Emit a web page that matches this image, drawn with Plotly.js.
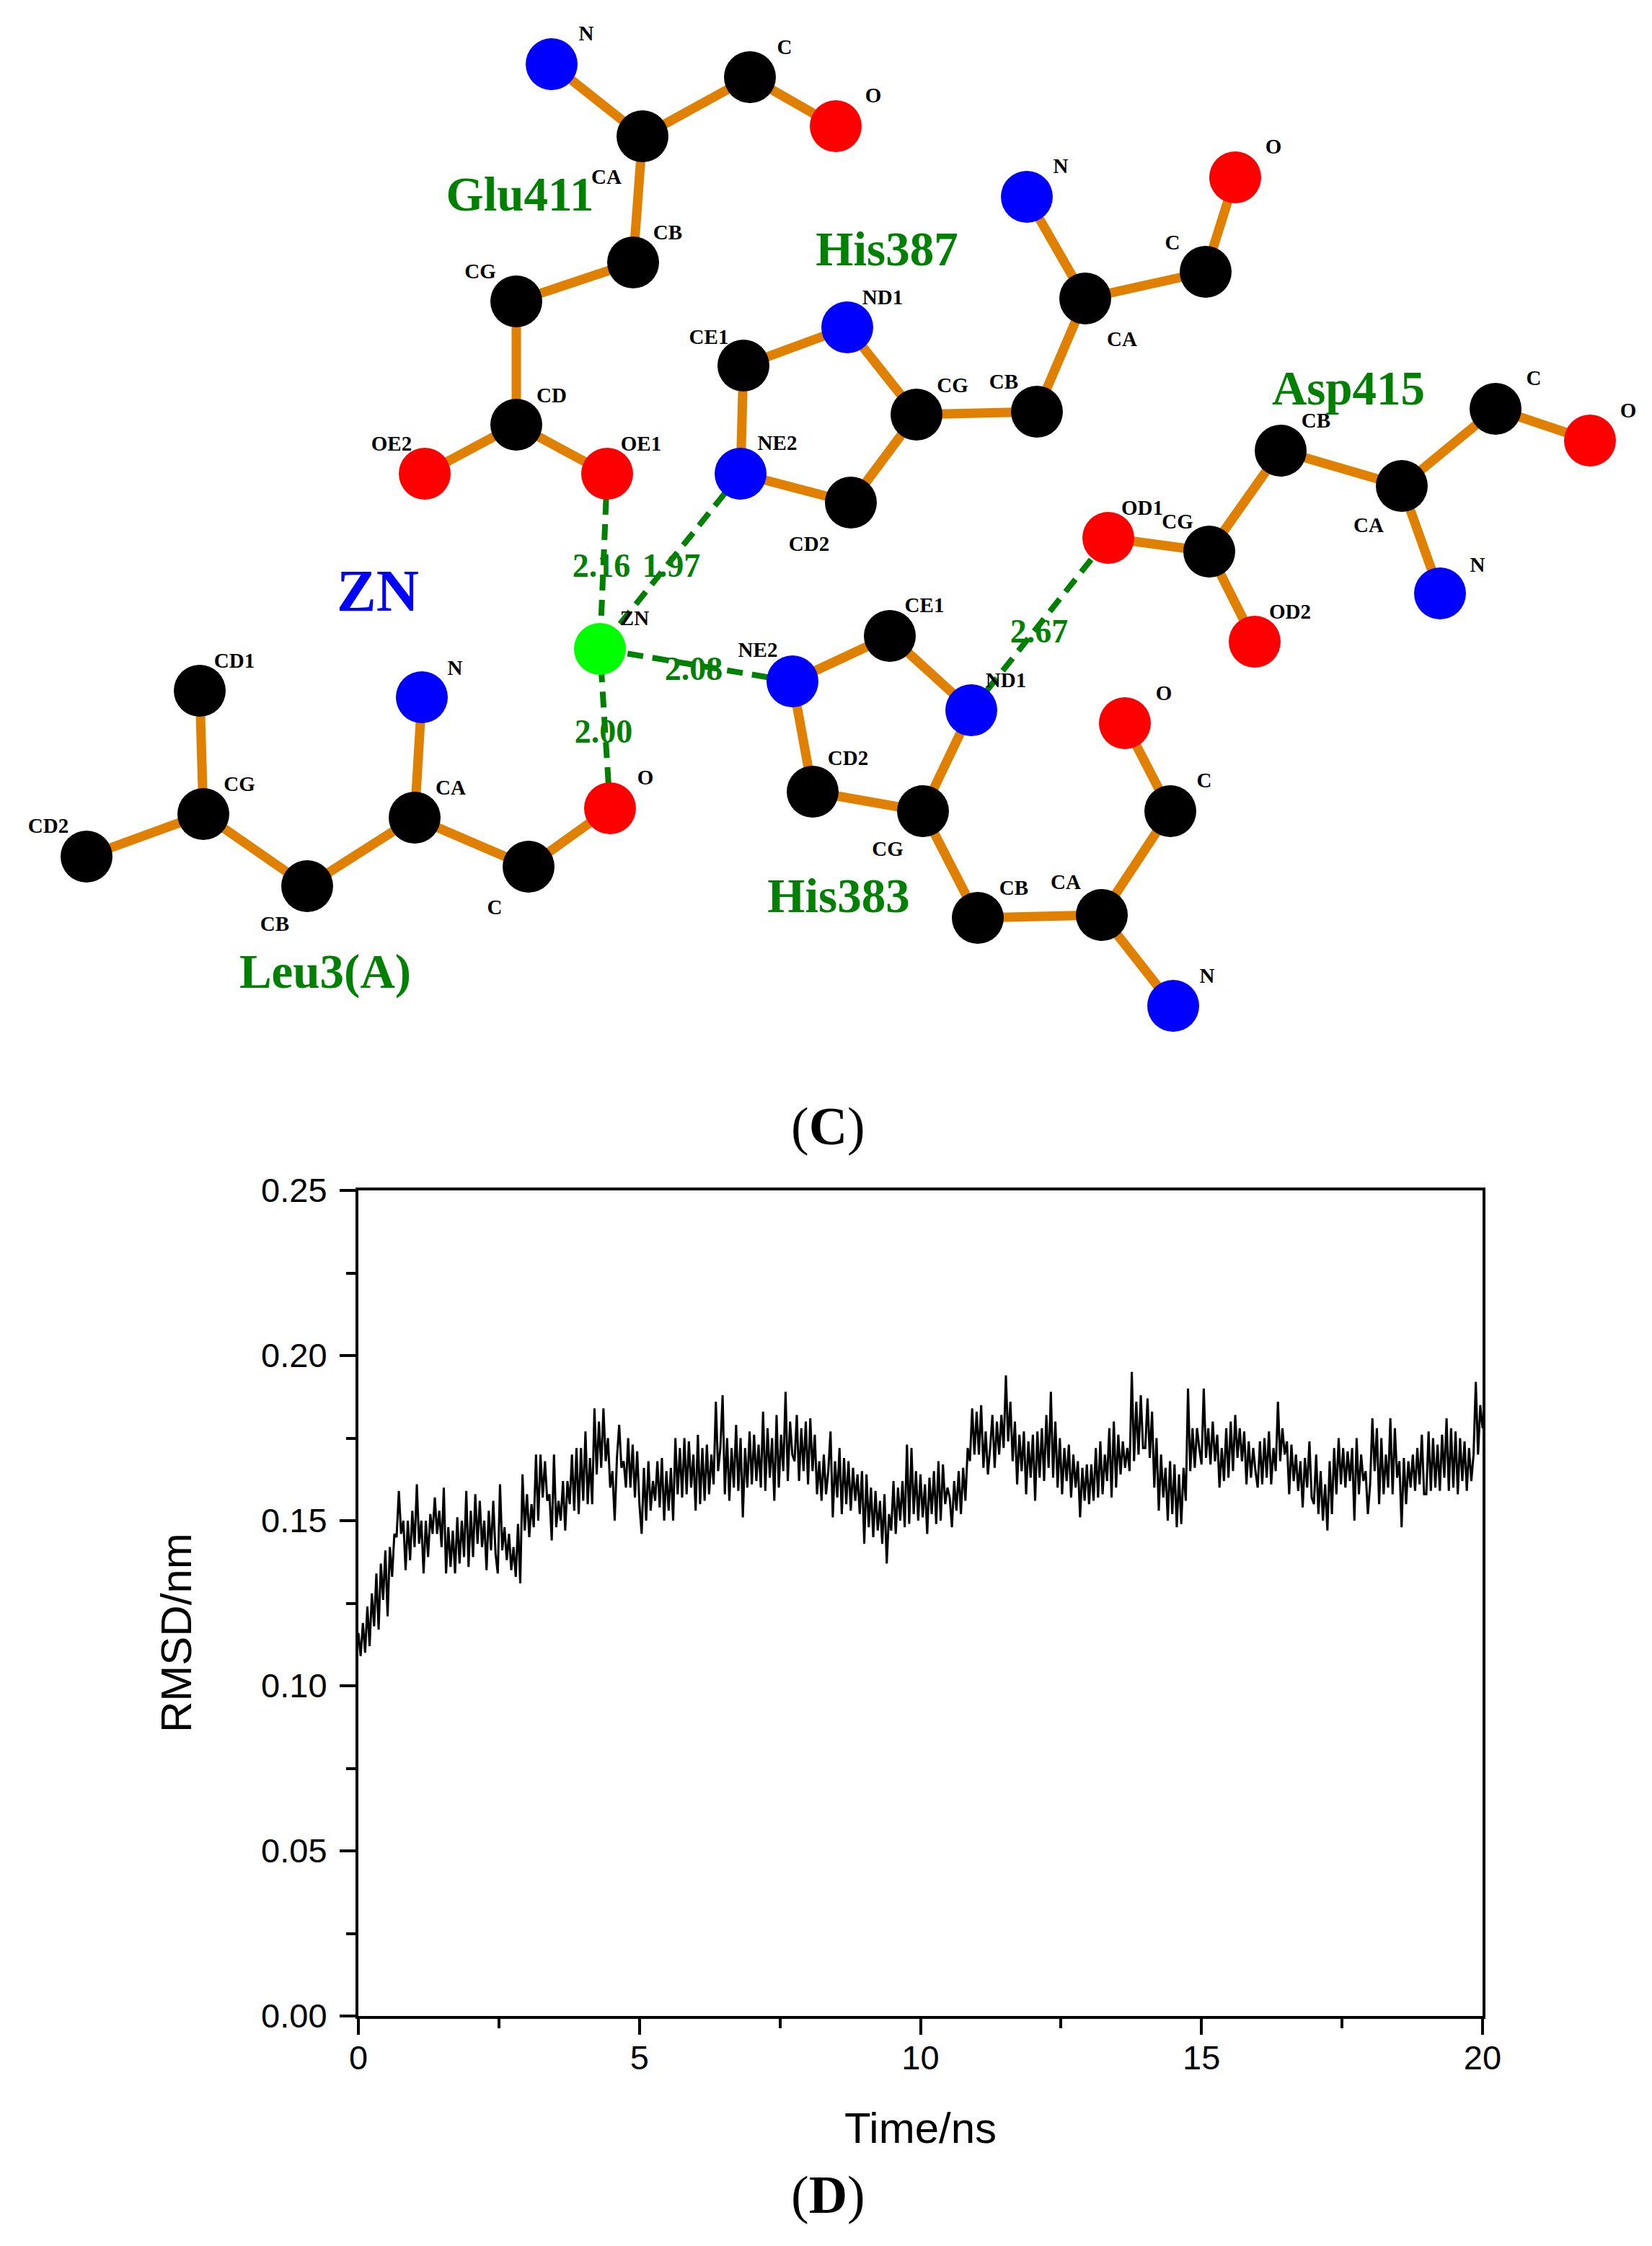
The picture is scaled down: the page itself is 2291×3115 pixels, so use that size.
<!DOCTYPE html>
<html><head><meta charset="utf-8">
<script src="https://cdn.plot.ly/plotly-3.0.1.min.js"></script>
<style>html,body{margin:0;padding:0;background:#fff}</style></head>
<body><div id="chart" style="width:2291px;height:3115px"></div>
<script>
// ---------- Panel D: RMSD trace ----------
const time = [
0,0.04,0.08,0.12,0.16,0.2,0.24,0.28,0.32,0.36,0.4,0.44,0.48,0.52,0.56,0.6,0.64,0.68,0.72,0.76,0.8,0.84,0.88,0.92,0.96,
1,1.04,1.08,1.12,1.16,1.2,1.24,1.28,1.32,1.36,1.4,1.44,1.48,1.52,1.56,1.6,1.64,1.68,1.72,1.76,1.8,1.84,1.88,1.92,1.96,
2,2.04,2.08,2.12,2.16,2.2,2.24,2.28,2.32,2.36,2.4,2.44,2.48,2.52,2.56,2.6,2.64,2.68,2.72,2.76,2.8,2.84,2.88,2.92,2.96,
3,3.04,3.08,3.12,3.16,3.2,3.24,3.28,3.32,3.36,3.4,3.44,3.48,3.52,3.56,3.6,3.64,3.68,3.72,3.76,3.8,3.84,3.88,3.92,3.96,
4,4.04,4.08,4.12,4.16,4.2,4.24,4.28,4.32,4.36,4.4,4.44,4.48,4.52,4.56,4.6,4.64,4.68,4.72,4.76,4.8,4.84,4.88,4.92,4.96,
5,5.04,5.08,5.12,5.16,5.2,5.24,5.28,5.32,5.36,5.4,5.44,5.48,5.52,5.56,5.6,5.64,5.68,5.72,5.76,5.8,5.84,5.88,5.92,5.96,
6,6.04,6.08,6.12,6.16,6.2,6.24,6.28,6.32,6.36,6.4,6.44,6.48,6.52,6.56,6.6,6.64,6.68,6.72,6.76,6.8,6.84,6.88,6.92,6.96,
7,7.04,7.08,7.12,7.16,7.2,7.24,7.28,7.32,7.36,7.4,7.44,7.48,7.52,7.56,7.6,7.64,7.68,7.72,7.76,7.8,7.84,7.88,7.92,7.96,
8,8.04,8.08,8.12,8.16,8.2,8.24,8.28,8.32,8.36,8.4,8.44,8.48,8.52,8.56,8.6,8.64,8.68,8.72,8.76,8.8,8.84,8.88,8.92,8.96,
9,9.04,9.08,9.12,9.16,9.2,9.24,9.28,9.32,9.36,9.4,9.44,9.48,9.52,9.56,9.6,9.64,9.68,9.72,9.76,9.8,9.84,9.88,9.92,9.96,
10,10.04,10.08,10.12,10.16,10.2,10.24,10.28,10.32,10.36,10.4,10.44,10.48,10.52,10.56,10.6,10.64,10.68,10.72,10.76,10.8,10.84,10.88,10.92,10.96,
11,11.04,11.08,11.12,11.16,11.2,11.24,11.28,11.32,11.36,11.4,11.44,11.48,11.52,11.56,11.6,11.64,11.68,11.72,11.76,11.8,11.84,11.88,11.92,11.96,
12,12.04,12.08,12.12,12.16,12.2,12.24,12.28,12.32,12.36,12.4,12.44,12.48,12.52,12.56,12.6,12.64,12.68,12.72,12.76,12.8,12.84,12.88,12.92,12.96,
13,13.04,13.08,13.12,13.16,13.2,13.24,13.28,13.32,13.36,13.4,13.44,13.48,13.52,13.56,13.6,13.64,13.68,13.72,13.76,13.8,13.84,13.88,13.92,13.96,
14,14.04,14.08,14.12,14.16,14.2,14.24,14.28,14.32,14.36,14.4,14.44,14.48,14.52,14.56,14.6,14.64,14.68,14.72,14.76,14.8,14.84,14.88,14.92,14.96,
15,15.04,15.08,15.12,15.16,15.2,15.24,15.28,15.32,15.36,15.4,15.44,15.48,15.52,15.56,15.6,15.64,15.68,15.72,15.76,15.8,15.84,15.88,15.92,15.96,
16,16.04,16.08,16.12,16.16,16.2,16.24,16.28,16.32,16.36,16.4,16.44,16.48,16.52,16.56,16.6,16.64,16.68,16.72,16.76,16.8,16.84,16.88,16.92,16.96,
17,17.04,17.08,17.12,17.16,17.2,17.24,17.28,17.32,17.36,17.4,17.44,17.48,17.52,17.56,17.6,17.64,17.68,17.72,17.76,17.8,17.84,17.88,17.92,17.96,
18,18.04,18.08,18.12,18.16,18.2,18.24,18.28,18.32,18.36,18.4,18.44,18.48,18.52,18.56,18.6,18.64,18.68,18.72,18.76,18.8,18.84,18.88,18.92,18.96,
19,19.04,19.08,19.12,19.16,19.2,19.24,19.28,19.32,19.36,19.4,19.44,19.48,19.52,19.56,19.6,19.64,19.68,19.72,19.76,19.8,19.84,19.88,19.92,19.96,
20];
const rmsd = [
.116,.109,.119,.110,.124,.112,.128,.118,.134,.117,.137,.126,.141,.121,.142,.133,.146,.145,.159,.146,.150,.135,.150,.138,.153,
.142,.161,.143,.150,.134,.150,.139,.152,.146,.157,.146,.153,.142,.160,.134,.148,.136,.147,.134,.151,.137,.150,.139,.159,.136,
.153,.139,.158,.143,.156,.142,.150,.135,.153,.141,.156,.140,.134,.161,.141,.148,.138,.146,.135,.142,.133,.149,.131,.164,.147,
.158,.145,.155,.148,.170,.150,.170,.157,.168,.156,.158,.144,.170,.148,.156,.150,.162,.147,.162,.155,.170,.153,.172,.152,.172,
.156,.177,.155,.169,.155,.184,.164,.180,.166,.184,.168,.175,.160,.165,.150,.169,.179,.166,.168,.160,.175,.160,.173,.157,.171,
.155,.146,.166,.150,.168,.153,.162,.156,.168,.154,.169,.150,.165,.153,.166,.150,.175,.158,.172,.157,.175,.158,.174,.160,.170,
.153,.176,.155,.172,.156,.173,.158,.170,.161,.186,.165,.172,.188,.158,.175,.156,.172,.160,.179,.159,.175,.151,.172,.160,.177,
.161,.176,.162,.173,.160,.183,.159,.178,.163,.175,.156,.182,.160,.176,.165,.189,.162,.180,.170,.168,.182,.162,.178,.165,.180,
.161,.181,.165,.176,.158,.168,.156,.170,.158,.165,.177,.151,.168,.157,.172,.152,.169,.155,.168,.153,.166,.156,.164,.152,.165,
.143,.164,.148,.160,.145,.159,.147,.156,.143,.158,.137,.152,.147,.162,.146,.160,.150,.162,.148,.173,.149,.172,.152,.165,.150,
.164,.151,.161,.146,.163,.152,.165,.149,.168,.150,.167,.155,.160,.157,.148,.162,.153,.165,.152,.166,.156,.172,.168,.184,.170,
.183,.170,.185,.166,.177,.164,.172,.182,.166,.180,.170,.182,.172,.194,.174,.186,.168,.180,.161,.176,.165,.177,.158,.174,.163,
.176,.156,.177,.163,.178,.162,.182,.166,.189,.163,.180,.160,.175,.158,.172,.162,.173,.157,.170,.160,.168,.151,.166,.156,.167,
.155,.167,.156,.172,.157,.174,.158,.170,.162,.178,.157,.180,.160,.176,.164,.174,.166,.172,.165,.195,.168,.186,.170,.188,.172,
.172,.187,.169,.183,.160,.175,.153,.170,.157,.166,.150,.168,.152,.167,.148,.164,.149,.166,.156,.190,.165,.178,.166,.178,.172,
.167,.190,.169,.178,.167,.180,.168,.176,.160,.172,.162,.178,.163,.180,.165,.182,.169,.178,.168,.177,.161,.174,.163,.172,.165,
.160,.174,.161,.175,.163,.177,.161,.172,.165,.186,.168,.178,.170,.174,.158,.173,.162,.170,.159,.168,.154,.169,.160,.174,.157,
.155,.170,.152,.165,.150,.161,.147,.168,.152,.172,.158,.175,.161,.172,.160,.171,.162,.172,.150,.175,.158,.170,.162,.165,.152,
.161,.181,.165,.178,.155,.175,.158,.170,.160,.181,.158,.178,.163,.168,.148,.169,.155,.168,.160,.170,.159,.172,.161,.176,.158,
.158,.177,.159,.175,.160,.173,.159,.176,.163,.181,.159,.178,.160,.177,.158,.175,.162,.174,.159,.172,.162,.170,.192,.170,.185,
.178];
const xTickVals = [0,5,10,15,20];
const yTickVals = [0,0.05,0.10,0.15,0.20,0.25];

// ---------- Panel C: interaction diagram (diagram units) ----------
const atomKeys = ['GN','GCA','GC','GO','GCB','GCG','GCD','GOE2','GOE1',
 'HCE1','HNE2','HND1','HCD2','HCG','HCB','HCA','HN','HC','HO',
 'ACB','ACA','AC','AO','AOD1','ACG','AN','AOD2',
 'DCE1','DND1','DCG','DCB','DCA','DC','DO','DN','DNE2','DCD2',
 'ZN','LCD1','LCG','LCD2','LCB','LCA','LN','LC','LO'];
const atomX = [765,891,1040,1159,878,716,716,589,842,
 1031,1027,1175,1180,1271,1438,1505,1424,1672,1713,
 1776,1944,2074,2205,1537,1677,1997,1740,
 1234,1347,1280,1356,1528,1623,1560,1627,1099,1127,
 832,277,282,120,426,575,585,733,846];
const atomY = [89,189,107,175,364,418,589,657,657,
 507,657,454,697,575,571,414,273,377,246,
 625,674,567,611,746,765,823,890,
 882,985,1125,1273,1269,1125,1003,1395,945,1098,
 900,958,1129,1188,1229,1134,967,1202,1121];
const atomColor = ['#0000ff','#000000','#000000','#ff0000','#000000','#000000','#000000','#ff0000','#ff0000',
 '#000000','#0000ff','#0000ff','#000000','#000000','#000000','#000000','#0000ff','#000000','#ff0000',
 '#000000','#000000','#000000','#ff0000','#ff0000','#000000','#0000ff','#ff0000',
 '#000000','#0000ff','#000000','#000000','#000000','#000000','#ff0000','#0000ff','#0000ff','#000000',
 '#00ff00','#000000','#000000','#000000','#000000','#000000','#0000ff','#000000','#ff0000'];
const bonds = [['GN','GCA'],['GCA','GC'],['GC','GO'],['GCA','GCB'],['GCB','GCG'],['GCG','GCD'],['GCD','GOE2'],['GCD','GOE1'],
 ['HCE1','HNE2'],['HCE1','HND1'],['HND1','HCG'],['HNE2','HCD2'],['HCD2','HCG'],['HCG','HCB'],['HCB','HCA'],['HCA','HN'],['HCA','HC'],['HC','HO'],
 ['AOD1','ACG'],['ACG','AOD2'],['ACG','ACB'],['ACB','ACA'],['ACA','AN'],['ACA','AC'],['AC','AO'],
 ['DNE2','DCE1'],['DCE1','DND1'],['DND1','DCG'],['DNE2','DCD2'],['DCD2','DCG'],['DCG','DCB'],['DCB','DCA'],['DCA','DC'],['DC','DO'],['DCA','DN'],
 ['LCD1','LCG'],['LCG','LCD2'],['LCG','LCB'],['LCB','LCA'],['LCA','LN'],['LCA','LC'],['LC','LO']];
const contacts = [['GOE1','ZN'],['HNE2','ZN'],['DNE2','ZN'],['LO','ZN'],['DND1','AOD1']];

const atomLabelText = ['N','C','O','CA','CB','CG','CD','OE2','OE1',
 'CE1','NE2','ND1','CG','CB','CA','N','C','O','CD2',
 'CB','CA','C','O','OD1','CG','N','OD2',
 'CE1','ND1','CD2','CG','CB','CA','C','O','N','NE2',
 'ZN','CD1','N','CG','CA','CD2','O','CB','C'];
const atomLabelX = [813,1088,1211,841,926,666,765,543,889,
 983,1078,1224,1321,1392,1556,1471,1626,1766,1122,
 1825,1898,2127,2258,1584,1633,2049,1789,
 1282,1395,1176,1231,1406,1478,1670,1614,1674,1051,
 880,325,631,332,625,67,895,381,686];
const atomLabelY = [49,68,135,248,325,379,551,618,618,
 470,617,415,537,532,473,233,339,206,757,
 586,731,527,572,707,726,786,851,
 842,946,1054,1180,1234,1226,1085,964,1356,904,
 860,919,929,1090,1095,1148,1081,1284,1261];

const residueText = ['Glu411','His387','Asp415','His383','Leu3(A)'];
const residueX = [721,1230,1870,1163,451];
const residueY = [275,351,544,1248,1353];
const distanceText = ['2.16','1.97','2.08','2.00','2.67'];
const distanceX = [834,931,962,837,1441];
const distanceY = [788,788,931,1018,879];

const SERIF = '"Liberation Serif", serif';
const SANS = '"Liberation Sans", Arial, sans-serif';
const GREEN = '#008000';
const idx = k => atomKeys.indexOf(k);
function segs(list, arr){ const o=[]; list.forEach(([a,b])=>{o.push(arr[idx(a)],arr[idx(b)],null);}); return o; }

const ov = {xaxis:'x2', yaxis:'y2', hoverinfo:'skip', showlegend:false};
const data = [
 {x:time, y:rmsd, type:'scatter', mode:'lines', line:{color:'#000000', width:3}, showlegend:false, name:'RMSD'},
 Object.assign({x:segs(bonds,atomX), y:segs(bonds,atomY), type:'scatter', mode:'lines', line:{color:'#e08000', width:13}}, ov),
 Object.assign({x:segs(contacts,atomX), y:segs(contacts,atomY), type:'scatter', mode:'lines', line:{color:GREEN, width:8, dash:'22px,13px'}}, ov),
 Object.assign({x:atomX, y:atomY, type:'scatter', mode:'markers', marker:{size:72, color:atomColor, line:{width:0}}}, ov),
 Object.assign({x:atomLabelX, y:atomLabelY, text:atomLabelText, type:'scatter', mode:'text', textposition:'middle center',
   textfont:{family:SERIF, size:29, color:'#000000', weight:700}}, ov),
 Object.assign({x:residueX, y:residueY, text:residueText, type:'scatter', mode:'text', textposition:'middle center',
   textfont:{family:SERIF, size:67, color:GREEN, weight:700}}, ov),
 Object.assign({x:distanceX, y:distanceY, text:distanceText, type:'scatter', mode:'text', textposition:'middle center',
   textfont:{family:SERIF, size:46, color:GREEN, weight:700}}, ov),
 Object.assign({x:[524], y:[826], text:['ZN'], type:'scatter', mode:'text', textposition:'middle center',
   textfont:{family:SERIF, size:82, color:'#0000ff', weight:700}}, ov)
];

const page = {w:2291, h:3115};
const box = {l:497, r:2056, t:1651, b:2796};
const layout = {
 width:page.w, height:page.h, margin:{l:0,r:0,t:0,b:0}, paper_bgcolor:'#ffffff', plot_bgcolor:'rgba(0,0,0,0)', showlegend:false,
 xaxis:{domain:[box.l/page.w, box.r/page.w], range:[0,20], anchor:'y', tickmode:'array', tickvals:xTickVals, ticktext:xTickVals.map(String),
   ticks:'outside', ticklen:22, tickwidth:4, tickcolor:'#000', showline:true, linewidth:4, linecolor:'#000', mirror:true, showgrid:false, zeroline:false,
   tickfont:{family:SANS, size:47, color:'#000'}, ticklabelstandoff:-8,
   minor:{tickmode:'array', tickvals:[2.5,7.5,12.5,17.5], ticks:'outside', ticklen:13, tickwidth:4, tickcolor:'#000', showgrid:false},
   title:{text:'Time/ns', font:{family:SANS, size:60, color:'#000'}, standoff:52}},
 yaxis:{domain:[1-box.b/page.h, 1-box.t/page.h], range:[0,0.25], anchor:'x', tickmode:'array', tickvals:yTickVals, ticktext:yTickVals.map(v=>v.toFixed(2)),
   ticks:'outside', ticklen:22, tickwidth:4, tickcolor:'#000', showline:true, linewidth:4, linecolor:'#000', mirror:true, showgrid:false, zeroline:false,
   tickfont:{family:SANS, size:47, color:'#000'}, ticklabelstandoff:8,
   minor:{tickmode:'array', tickvals:[0.025,0.075,0.125,0.175,0.225], ticks:'outside', ticklen:13, tickwidth:4, tickcolor:'#000', showgrid:false}},
 xaxis2:{domain:[0,1], range:[0,page.w], anchor:'y2', visible:false, fixedrange:true},
 yaxis2:{domain:[0,1], range:[page.h,0], anchor:'x2', visible:false, fixedrange:true},
 annotations:[
  {xref:'x2', yref:'y2', x:244, y:2265, text:'RMSD/nm', textangle:-90, showarrow:false, font:{family:SANS, size:60, color:'#000'}},
  {xref:'x2', yref:'y2', x:1148, y:1562, text:'(<b>C</b>)', showarrow:false, font:{family:SERIF, size:74, color:'#000'}},
  {xref:'x2', yref:'y2', x:1148, y:3044, text:'(<b>D</b>)', showarrow:false, font:{family:SERIF, size:74, color:'#000'}}
 ]
};
Plotly.newPlot('chart', data, layout, {displayModeBar:false, staticPlot:true});
</script></body></html>
